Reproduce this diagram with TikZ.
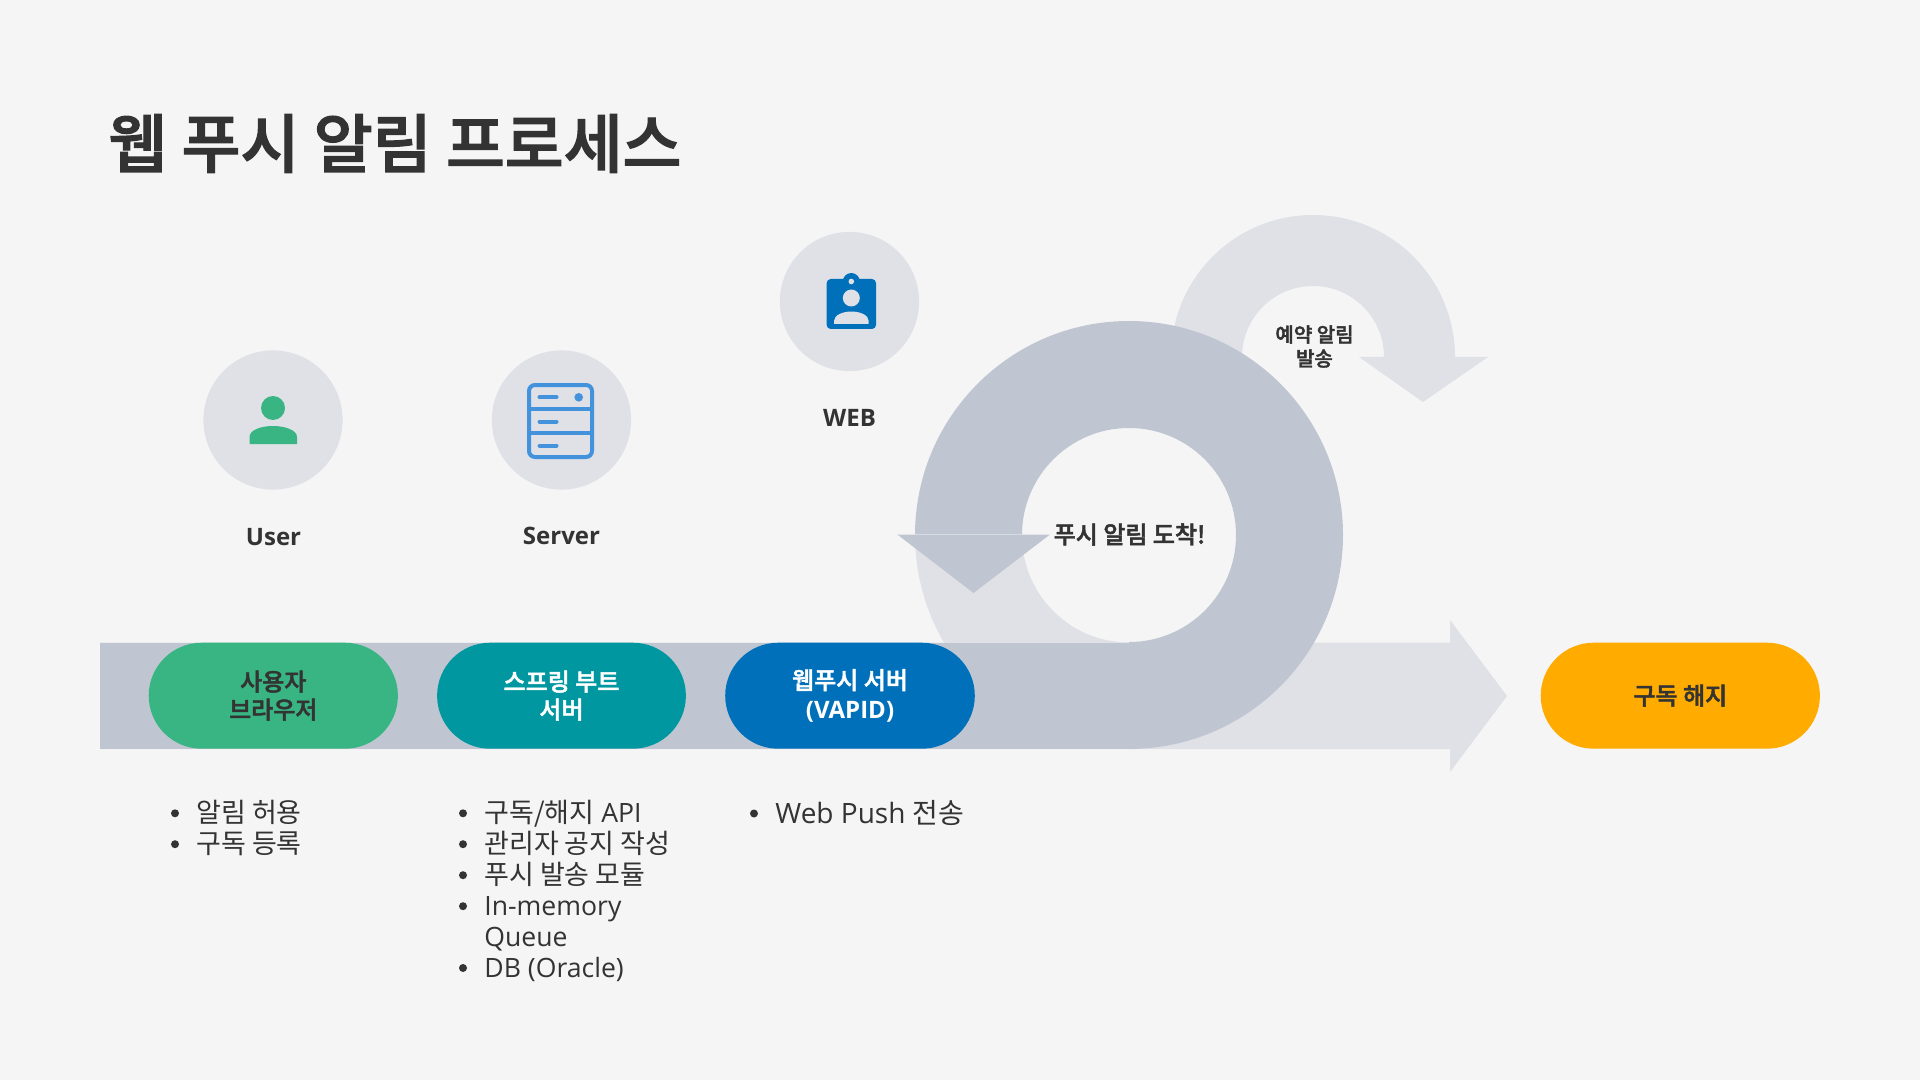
\documentclass[tikz,border=0pt]{standalone}
\usepackage{fontspec}
\setmainfont{Open Sans}
\newfontfamily\itemfont{Open Sans}[Scale=0.985]
\newfontfamily\krfont{Noto Sans CJK KR}[BoldFont={Noto Sans CJK KR Medium},BoldFeatures={FakeBold=2}]
\newcommand{\kr}[1]{{\krfont #1}}
\definecolor{bgc}{HTML}{F5F5F5}
\definecolor{lightg}{HTML}{DFE1E7}
\definecolor{darkg}{HTML}{C0C6D1}
\definecolor{seamc}{HTML}{D6DAE1}
\definecolor{ink}{HTML}{333333}
\definecolor{greenp}{HTML}{38B582}
\definecolor{tealp}{HTML}{0097A0}
\definecolor{bluep}{HTML}{0070BA}
\definecolor{orangep}{HTML}{FFAB00}
\definecolor{servc}{HTML}{4393DC}
\tikzset{
  x=0.5pt,y=-0.5pt,
  badge/.style={circle,fill=lightg,minimum size=69.6pt,inner sep=0pt},
  pill/.style={rounded corners=26.5pt,minimum height=53pt,inner sep=0pt,align=center,
     font=\fontsize{12}{14}\selectfont\bfseries},
  caption/.style={font=\fontsize{12}{14}\selectfont\bfseries,text=ink,inner sep=0pt,align=center},
  item/.style={anchor=base west,inner sep=0pt,text=ink,font=\itemfont\fontsize{13.5}{15.5}\selectfont},
  dotmark/.style={circle,fill=ink,minimum size=4pt,inner sep=0pt},
  servline/.style={draw=servc,line width=2pt,line cap=round},
}
\begin{document}
\begin{tikzpicture}
\useasboundingbox (0,0) rectangle (1920,1080);
\fill[bgc] (0,0) rectangle (1920,1080);

% title
\node[anchor=west,inner sep=0pt,text=ink,font=\fontsize{32}{38}\selectfont\bfseries] (title) at (108,143.5) {\kr{웹 푸시 알림 프로세스}};

% small loop
\fill[lightg] (1171,357) arc (180:360:142) -- (1384,357) arc (360:180:71) -- cycle;
\fill[lightg] (1359,357) -- (1488,357) -- (1423,402) -- cycle;

% long arrow
\fill[lightg] (100,642.5) -- (1450,642.5) -- (1450,620) -- (1507,696) -- (1450,772) -- (1450,749) -- (100,749) -- cycle;

% lower left quadrant of big loop
\fill[lightg] (915,535) arc (180:90:214) -- (1129,642.5) arc (90:180:107) -- cycle;

% dark bar and big loop
\fill[darkg] (100,642.5) rectangle (1130,749);
\fill[darkg] (1129,749) arc (90:-180:214) -- (1022,535) arc (-180:90:107) -- cycle;
\fill[darkg] (897.3,534.5) -- (1050,534.5) -- (973.5,593) -- cycle;
\draw[seamc,line width=0.5pt] (915,534.5) -- (1022,534.5);

% badges
\node[badge] (userb) at (273,420) {};
\node[badge] (servb) at (561.5,420) {};
\node[badge] (webb) at (849.5,301.5) {};

% user icon
\fill[greenp] (273,408) circle (12);
\fill[greenp] (249.5,444) -- (249.5,437) .. controls (249.5,430) and (261,426) .. (273,426) .. controls (285,426) and (297,430) .. (297,437) -- (297,444) -- cycle;

% server icon
\draw[draw=servc,line width=2pt,rounded corners=3pt] (529,385) rectangle (592,457);
\draw[draw=servc,line width=2pt] (529,409) -- (592,409);
\draw[draw=servc,line width=2pt] (529,433) -- (592,433);
\draw[servline] (539.5,397.3) -- (556.5,397.3);
\draw[servline] (539.5,421.5) -- (556.5,421.5);
\draw[servline] (539.5,445.7) -- (556.5,445.7);
\fill[servc] (578.7,397.3) circle (4.3);

% web icon
\fill[bluep,rounded corners=2pt] (826.7,279) rectangle (876,329);
\fill[bluep] (851.3,281.5) circle (8.5);
\fill[lightg] (851.3,281.5) circle (2.8);
\fill[lightg] (851.3,298) circle (8.5);
\fill[lightg] (834,324) -- (834,321) .. controls (834,315) and (843,311.5) .. (851.3,311.5) .. controls (860,311.5) and (868.7,315) .. (868.7,321) -- (868.7,324) -- cycle;

% captions
\node[caption] (userc) at (273.5,537) {User};
\node[caption] (servc) at (561.5,536) {Server};
\node[caption] (webc) at (849.5,417.5) {WEB};

% loop labels
\node[caption] (arrive) at (1129.5,534.5) {\kr{푸시 알림 도착!}};
\node[caption,font=\fontsize{10}{12}\selectfont\bfseries] (resv) at (1314.5,346.5) {\kr{예약 알림}\\\kr{발송}};

% pills
\node[pill,fill=greenp,text=ink,minimum width=124.6pt] (p1) at (273.3,695.7) {\kr{사용자}\\\kr{브라우저}};
\node[pill,fill=tealp,text=white,minimum width=124.4pt] (p2) at (561.5,695.7) {\kr{스프링 부트}\\\kr{서버}};
\node[pill,fill=bluep,text=white,minimum width=124.8pt] (p3) at (850,695.7) {\kr{웹푸시 서버}\\\raisebox{-0.6pt}{(VAPID)}};
\node[pill,fill=orangep,text=ink,minimum width=139.6pt] (p4) at (1680.3,695.7) {\kr{구독 해지}};

% lists
\node[dotmark] (d11) at (175,813.3) {};
\node[item] (t11) at (196,822) {\kr{알림 허용}};
\node[dotmark] (d12) at (175,844.2) {};
\node[item] (t12) at (196,853) {\kr{구독 등록}};

\node[dotmark] (d21) at (463,813.3) {};
\node[item] (t21) at (484,822) {\kr{구독/해지} API};
\node[dotmark] (d22) at (463,844.2) {};
\node[item] (t22) at (484,853) {\kr{관리자 공지 작성}};
\node[dotmark] (d23) at (463,875.2) {};
\node[item] (t23) at (484,884) {\kr{푸시 발송 모듈}};
\node[dotmark] (d24) at (463,906.2) {};
\node[item] (t24) at (484,915) {In-memory};
\node[item] (t24b) at (484,946) {Queue};
\node[dotmark] (d25) at (463,968) {};
\node[item] (t25) at (484,977) {DB (Oracle)};

\node[dotmark] (d31) at (754,813.5) {};
\node[item,font=\rmfamily\fontsize{14}{16}\selectfont] (t31) at (775,823.5) {Web Push \kr{전송}};
\end{tikzpicture}
\end{document}
